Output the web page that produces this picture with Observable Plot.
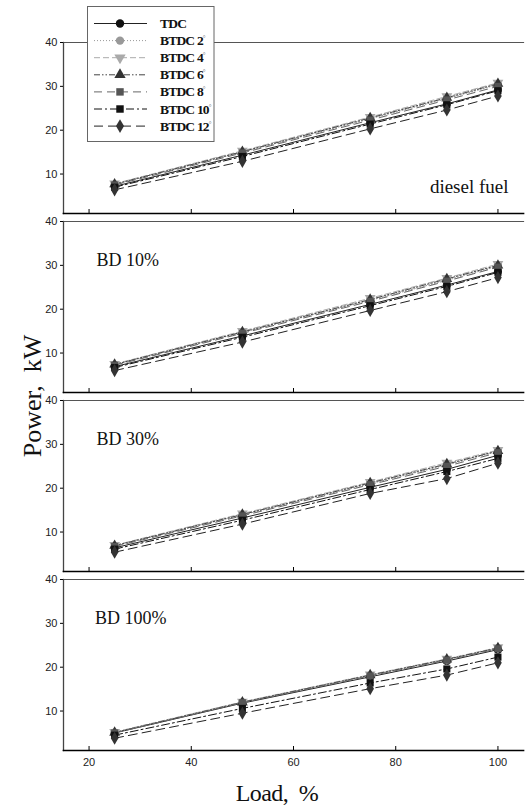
<!DOCTYPE html>
<html><head><meta charset="utf-8">
<script src="https://cdn.jsdelivr.net/npm/d3@7"></script>
<script src="https://cdn.jsdelivr.net/npm/@observablehq/plot@0.6"></script>
<style>
body{margin:0;background:#fff}
#c{position:relative;width:525px;height:807px;overflow:hidden;background:#fff}
#c svg{position:absolute;left:0}
</style>
</head><body><div id="c"></div>
<script>
// ---- data ----
const loads = [25, 50, 75, 90, 100];
const seriesNames = ["TDC", "BTDC 2", "BTDC 4", "BTDC 6", "BTDC 8", "BTDC 10", "BTDC 12"];
const panelNames = ["diesel fuel", "BD 10%", "BD 30%", "BD 100%"];
const xTicks = [20, 40, 60, 80, 100];
const yTicks = [10, 20, 30, 40];

// rows follow seriesNames, columns follow loads
const dieselFuel = [
  [7.2, 14.3, 21.7, 26.0, 29.2],
  [7.6, 15.0, 22.6, 27.2, 30.4],
  [7.8, 15.3, 23.0, 27.7, 30.8],
  [7.7, 15.1, 22.8, 27.4, 30.6],
  [7.5, 14.8, 22.3, 26.9, 30.0],
  [7.0, 14.0, 21.4, 25.8, 29.0],
  [6.4, 12.9, 20.3, 24.6, 27.8]
];
const bd10 = [
  [6.9, 13.9, 21.1, 25.5, 28.6],
  [7.3, 14.7, 22.0, 26.6, 29.8],
  [7.5, 15.0, 22.5, 27.1, 30.3],
  [7.4, 14.8, 22.2, 26.9, 30.0],
  [7.2, 14.5, 21.8, 26.4, 29.6],
  [6.7, 13.6, 20.8, 25.2, 28.4],
  [6.0, 12.5, 19.7, 24.0, 27.2]
];
const bd30 = [
  [6.4, 13.2, 20.2, 24.3, 27.5],
  [6.8, 13.9, 21.0, 25.3, 28.4],
  [7.0, 14.2, 21.4, 25.8, 28.7],
  [6.9, 14.0, 21.2, 25.5, 28.5],
  [6.7, 13.7, 20.8, 25.0, 28.1],
  [6.1, 12.7, 19.7, 23.8, 26.8],
  [5.4, 11.8, 18.8, 22.2, 25.7]
];
const bd100 = [
  [5.0, 11.8, 17.8, 21.4, 24.0],
  [5.1, 12.0, 18.1, 21.7, 24.3],
  [5.2, 12.1, 18.3, 21.9, 24.5],
  [5.1, 12.0, 18.2, 21.8, 24.4],
  [5.0, 11.9, 18.0, 21.6, 24.2],
  [4.5, 10.6, 16.4, 19.6, 22.3],
  [3.8, 9.5, 15.1, 18.2, 21.0]
];
const panelValues = [dieselFuel, bd10, bd30, bd100];

// ---- styles ----
const triangleDown = {
  draw(ctx, size) {
    const y = -Math.sqrt(size / (Math.sqrt(3) * 3));
    ctx.moveTo(0, -y * 2);
    ctx.lineTo(-Math.sqrt(3) * y, y);
    ctx.lineTo(Math.sqrt(3) * y, y);
    ctx.closePath();
  }
};
const seriesStyle = [
  {stroke: "#222", dash: null, fill: "#111", symbol: d3.symbolCircle},
  {stroke: "#999", dash: "1,2", fill: "#999", symbol: d3.symbolCircle},
  {stroke: "#aaa", dash: "6,3", fill: "#aaa", symbol: triangleDown},
  {stroke: "#444", dash: "6,2,1.5,2,1.5,2", fill: "#333", symbol: d3.symbolTriangle},
  {stroke: "#666", dash: "8,5", fill: "#555", symbol: d3.symbolSquare},
  {stroke: "#111", dash: "8,3,2,3", fill: "#111", symbol: d3.symbolSquare},
  {stroke: "#222", dash: "9,5", fill: "#333", symbol: d3.symbolDiamond}
];

const W = 525, ML = 63, MR = 2, PH = 171;
const panelTops = [41.5, 220.5, 399.5, 578.5];
const container = document.getElementById("c");

panelNames.forEach((pname, pi) => {
  const isLast = pi === panelNames.length - 1;
  const mt = 8, mb = isLast ? 30 : 8;
  const rows = [];
  seriesNames.forEach((s, si) => loads.forEach((l, li) =>
    rows.push({series: s, si, load: l, power: panelValues[pi][si][li]})));

  const marks = [
    Plot.frame({anchor: "top", stroke: "#555", strokeWidth: 1.2}),
    Plot.frame({anchor: "left", stroke: "#444", strokeWidth: 1.3}),
    Plot.axisY({ticks: yTicks, tickSize: 3, tickPadding: 3, fontSize: 11, fill: "#222", label: null}),
    Plot.axisX({ticks: xTicks, tickSize: -4, tickFormat: () => "", label: null})
  ];
  if (isLast) marks.push(Plot.axisX({ticks: xTicks, tickSize: 0, tickPadding: 8, fontSize: 11, fill: "#222", label: null}));
  seriesNames.forEach((s, si) => {
    const st = seriesStyle[si];
    marks.push(Plot.line(rows.filter(d => d.si === si), {
      x: "load", y: "power", stroke: st.stroke, strokeWidth: 1,
      strokeDasharray: st.dash
    }));
  });
  seriesNames.forEach((s, si) => {
    const st = seriesStyle[si];
    marks.push(Plot.dot(rows.filter(d => d.si === si), {
      x: "load", y: "power", symbol: st.symbol, fill: st.fill, r: 4, stroke: "none"
    }));
  });
  marks.push(Plot.frame({anchor: "bottom", stroke: "#000", strokeWidth: 1.7}));
  if (pi === 0) {
    marks.push(Plot.text([pname], {frameAnchor: "bottom-right", textAnchor: "end", lineAnchor: "bottom",
      dx: -15, dy: -21, fontSize: 19, fontFamily: "Liberation Serif, Times New Roman, serif", fill: "#111"}));
  } else {
    marks.push(Plot.text([pname], {frameAnchor: "top-left", textAnchor: "start", lineAnchor: "bottom",
      dx: pi === 3 ? 31.5 : 33, dy: 44, fontSize: 18, fontFamily: "Liberation Serif, Times New Roman, serif", fill: "#111"}));
  }

  const svg = Plot.plot({
    width: W, height: PH + mt + mb,
    marginLeft: ML, marginRight: MR, marginTop: mt, marginBottom: mb,
    style: {background: "transparent", fontFamily: "Liberation Sans, Arial, sans-serif", overflow: "visible"},
    x: {domain: [15, 105]},
    y: {domain: [1, 40]},
    marks
  });
  svg.style.top = (panelTops[pi] - mt) + "px";
  container.appendChild(svg);
});

// ---- overlay: axis titles and legend ----
const ov = d3.select(container).append("svg")
  .attr("width", W).attr("height", 807).style("top", "0px").style("pointer-events", "none");

ov.append("text")
  .attr("transform", "translate(41,396) rotate(-90)")
  .attr("text-anchor", "middle")
  .style("white-space", "pre")
  .attr("font-family", "Liberation Serif, Times New Roman, serif")
  .attr("font-size", 26).attr("fill", "#111")
  .text("Power,  kW");

ov.append("text")
  .attr("x", 277).attr("y", 801)
  .attr("text-anchor", "middle")
  .style("white-space", "pre")
  .attr("font-family", "Liberation Serif, Times New Roman, serif")
  .attr("font-size", 24).attr("letter-spacing", -0.6).attr("fill", "#111")
  .text("Load,  %");

const lg = ov.append("g");
lg.append("rect").attr("x", 87.5).attr("y", 6.5).attr("width", 126.5).attr("height", 135)
  .attr("fill", "#fff").attr("stroke", "#666").attr("stroke-width", 1);
seriesNames.forEach((s, si) => {
  const st = seriesStyle[si];
  const y = 23.5 + si * 17.1;
  lg.append("line").attr("x1", 94).attr("x2", 147).attr("y1", y).attr("y2", y)
    .attr("stroke", st.stroke).attr("stroke-width", 1)
    .attr("stroke-dasharray", st.dash);
  lg.append("path").attr("transform", `translate(120,${y})`)
    .attr("d", d3.symbol(st.symbol, Math.PI * 4.2 * 4.2)())
    .attr("fill", st.fill);
  const t = lg.append("text").attr("x", 160).attr("y", y + 4.5)
    .attr("font-family", "Liberation Serif, Times New Roman, serif")
    .attr("font-weight", "bold").attr("font-size", 13.5).attr("letter-spacing", -0.8)
    .attr("fill", "#111").text(s);
  if (si > 0) t.append("tspan").attr("dy", -5).attr("font-size", 7).attr("font-weight", "normal").attr("fill", "#777").text("°");
});
</script>
</body></html>
